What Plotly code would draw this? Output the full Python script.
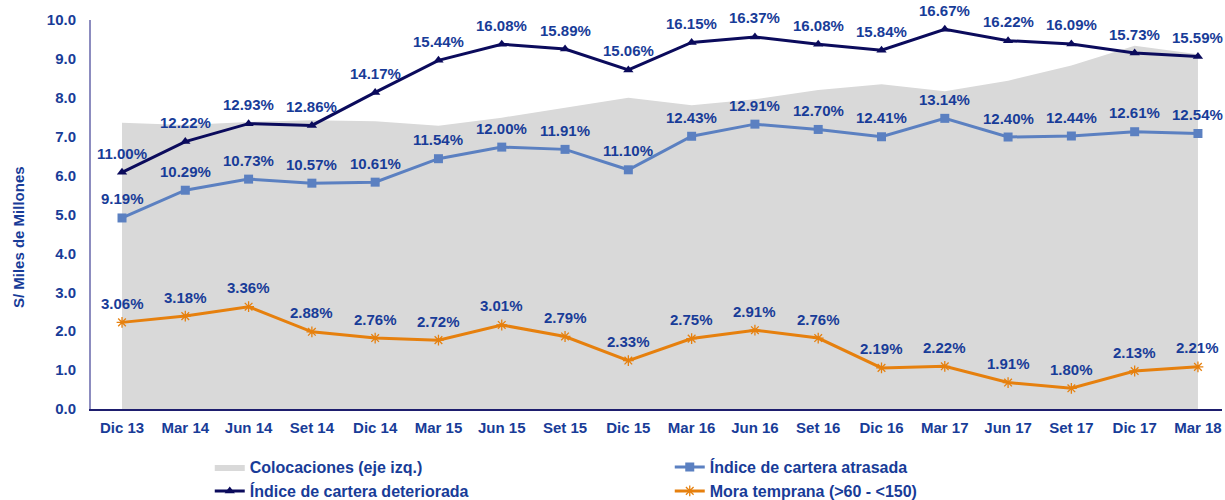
import plotly.graph_objects as go

categories = ["Dic 13", "Mar 14", "Jun 14", "Set 14", "Dic 14", "Mar 15", "Jun 15", "Set 15", "Dic 15",
              "Mar 16", "Jun 16", "Set 16", "Dic 16", "Mar 17", "Jun 17", "Set 17", "Dic 17", "Mar 18"]
colocaciones = [7.36, 7.30, 7.38, 7.42, 7.40, 7.28, 7.49, 7.75, 8.00,
                7.81, 7.96, 8.20, 8.35, 8.17, 8.44, 8.83, 9.34, 9.12]
deteriorada = [11.00, 12.22, 12.93, 12.86, 14.17, 15.44, 16.08, 15.89, 15.06,
               16.15, 16.37, 16.08, 15.84, 16.67, 16.22, 16.09, 15.73, 15.59]
atrasada = [9.19, 10.29, 10.73, 10.57, 10.61, 11.54, 12.00, 11.91, 11.10,
            12.43, 12.91, 12.70, 12.41, 13.14, 12.40, 12.44, 12.61, 12.54]
mora = [3.06, 3.18, 3.36, 2.88, 2.76, 2.72, 3.01, 2.79, 2.33,
        2.75, 2.91, 2.76, 2.19, 2.22, 1.91, 1.80, 2.13, 2.21]
y_ticks = [0, 1, 2, 3, 4, 5, 6, 7, 8, 9, 10]

LABEL = "#183C98"
FAM = "Liberation Sans, Arial, sans-serif"
LFONT = dict(family=FAM, size=15, color=LABEL)

fig = go.Figure()
fig.add_trace(go.Scatter(
    x=categories, y=colocaciones, name="Colocaciones (eje izq.)", mode="lines",
    line=dict(width=0, color="#D9D9D9"), fill="tozeroy", fillcolor="#D9D9D9",
    legendrank=1, hoverinfo="skip"))
fig.add_trace(go.Scatter(
    x=categories, y=atrasada, name="Índice de cartera atrasada", yaxis="y2",
    mode="lines+markers", line=dict(color="#5B80C1", width=3),
    marker=dict(symbol="square", size=9, color="#5B80C1"), legendrank=2))
fig.add_trace(go.Scatter(
    x=categories, y=deteriorada, name="Índice de cartera deteriorada", yaxis="y2",
    mode="lines+markers", line=dict(color="#0B0B5C", width=3),
    marker=dict(symbol="triangle-up", size=9, color="#0B0B5C"), legendrank=3))
fig.add_trace(go.Scatter(
    x=categories, y=mora, name="Mora temprana (>60 - <150)", yaxis="y3",
    mode="lines+markers", line=dict(color="#E6800E", width=3),
    marker=dict(symbol="asterisk-open", size=9, color="#E6800E", line=dict(width=1.3, color="#E6800E")),
    legendrank=4))

annotations = []
for series, yref in ((atrasada, "y2"), (deteriorada, "y2"), (mora, "y3")):
    for c, v in zip(categories, series):
        annotations.append(dict(x=c, y=v, xref="x", yref=yref, text=f"<b>{v:.2f}%</b>",
                                showarrow=False, yshift=19, xanchor="center", yanchor="middle",
                                font=LFONT))
annotations.append(dict(text="<b>S/ Miles de Millones</b>", xref="paper", yref="paper",
                        x=-0.0645, y=0.442, xanchor="center", yanchor="middle",
                        textangle=-90, showarrow=False,
                        font=dict(family=FAM, size=15, color=LABEL)))

fig.update_layout(
    width=1225, height=500,
    margin=dict(l=91, r=3, t=20, b=91, autoexpand=False),
    paper_bgcolor="white", plot_bgcolor="white",
    showlegend=True,
    legend=dict(orientation="h", x=0.105, xanchor="left", y=-0.255, yanchor="bottom",
                entrywidth=415, entrywidthmode="pixels",
                font=dict(family="Liberation Sans Narrow, Arial Narrow, Liberation Sans, sans-serif",
                          size=16, color=LABEL, weight="bold"),
                itemwidth=30, tracegroupgap=0, bgcolor="rgba(0,0,0,0)"),
    xaxis=dict(type="category", categoryorder="array", categoryarray=categories,
               range=[-0.49, 17.38], showgrid=False, zeroline=False,
               showline=True, linecolor="#1E1E6E", linewidth=1.5, ticks="",
               tickvals=categories, ticktext=[f"<b>{c}</b>" for c in categories],
               tickfont=dict(family=FAM, size=15, color=LABEL), ticklabelstandoff=4),
    yaxis=dict(range=[0, 10], tickvals=y_ticks, ticktext=[f"<b>{v:.1f}</b>" for v in y_ticks],
               showgrid=False, zeroline=False, showline=True, linecolor="#8C8CBF", linewidth=2,
               ticks="", tickfont=dict(family=FAM, size=15, color=LABEL), ticklabelstandoff=10),
    yaxis2=dict(overlaying="y", range=[1.615, 17.04], visible=False),
    yaxis3=dict(overlaying="y", range=[1.404, 8.84], visible=False),
    annotations=annotations,
)

fig.write_html("out.html", config={"displayModeBar": False},
               post_script="document.body.style.margin='0';")
